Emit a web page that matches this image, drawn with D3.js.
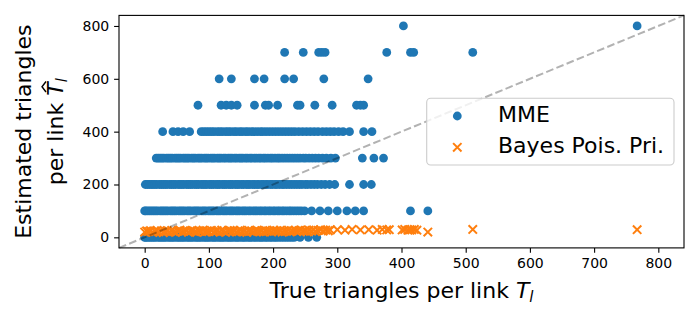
<!DOCTYPE html>
<html>
<head>
<meta charset="utf-8">
<script src="https://cdn.jsdelivr.net/npm/d3@7"></script>
<style>
  body { margin: 0; background: #fff; }
  svg { display: block; font-family: "DejaVu Sans", sans-serif; }
</style>
</head>
<body>
<script>
// MME estimates sit on multiples of 100, one array of true-triangle counts per row
const mmeRow0 = [0,2,5,8,11,14,17,21,24,27,30,33,37,40,43,46,50,53,56,59,62,66,69,72,75,79,82,85,88,92,95,98,101,105,108,111,115,118,121,124,128,131,134,137,141,144,147,151,154,157,161,164,167,171,174,178,181,184,188,191,195,198,202,205,209,213,217,221,225,229,233,242,255,268];
const mmeRow100 = [0,2,5,8,11,14,17,20,24,27,30,33,36,40,43,46,49,53,56,59,62,66,69,72,76,79,82,85,89,92,95,99,102,105,108,112,115,118,122,125,128,132,135,138,142,145,148,152,155,158,162,165,169,172,175,179,182,186,189,193,196,200,203,207,210,214,217,221,225,228,232,236,240,244,249,260,273,286,300,315,328,341,414,441];
const mmeRow200 = [1,4,7,10,13,16,19,23,26,29,32,35,39,42,45,48,52,55,58,61,65,68,71,74,78,81,84,88,91,94,97,101,104,107,111,114,117,121,124,127,131,134,137,141,144,147,151,154,158,161,164,168,171,175,178,182,185,189,192,196,199,203,206,210,214,217,221,225,229,233,237,241,245,250,254,259,264,269,275,281,288,296,319,341,353];
const mmeRow300 = [18,21,24,27,30,34,37,40,43,47,50,53,56,60,63,66,69,73,76,79,83,86,89,93,96,99,103,106,109,113,116,119,123,126,130,133,136,140,143,147,150,153,157,160,164,167,171,174,178,181,185,188,192,196,199,203,207,210,214,218,222,226,230,234,238,242,247,251,256,261,266,271,277,283,290,297,339,357,372];
const mmeRow400 = [28,44,52,60,70,88,92,96,100,104,108,113,117,121,126,130,134,139,143,148,152,157,161,166,170,175,180,184,189,194,199,204,209,214,219,224,229,234,240,246,252,258,264,270,277,283,289,295,302,309,319,341,354];
const mmeRow500 = [83,119,127,135,144,171,188,193,207,238,242,265,292,330,336,341];
const mmeRow600 = [116,135,171,186,218,232,279,348];
const mmeRow700 = [218,247,271,276,281,377,414,419,511];
const mmeRow800 = [403,767];

// Bayes (Poisson prior) estimates: [true, estimated]
const bayesPoints = [[0,20],[3,24],[6,22],[9,25],[13,19],[16,23],[19,26],[22,21],[26,24],[29,18],[32,23],[35,25],[39,21],[42,26],[45,22],[48,19],[52,24],[55,27],[58,21],[61,23],[65,25],[68,20],[71,24],[74,26],[78,22],[81,19],[84,25],[87,23],[91,27],[94,21],[97,24],[100,22],[104,26],[107,20],[110,23],[113,25],[117,21],[120,27],[123,23],[126,19],[130,24],[133,26],[136,22],[139,25],[143,20],[146,23],[149,27],[152,22],[156,24],[159,19],[162,26],[165,23],[169,21],[172,25],[175,27],[178,22],[182,24],[185,20],[188,26],[191,23],[195,25],[198,21],[201,27],[204,24],[208,22],[211,26],[214,20],[217,25],[221,23],[224,27],[227,21],[230,24],[234,26],[237,22],[240,25],[243,28],[247,23],[250,26],[253,21],[256,27],[260,24],[263,28],[266,22],[270,26],[274,29],[278,24],[282,27],[286,25],[289,28],[300,29],[312,27],[323,30],[336,28],[349,29],[362,27],[370,30],[377,28],[381,29],[401,28],[405,30],[410,27],[413,29],[416,28],[420,30],[424,27],[441,20],[511,30],[767,29]];

const xTicks = [0,100,200,300,400,500,600,700,800];
const yTicks = [0,200,400,600,800];
const seriesNames = ["MME", "Bayes Pois. Pri."];

const w = 700;
const h = 320;
const blue = "#1f77b4";
const orange = "#ff7f0e";

const mmeRows = [mmeRow0, mmeRow100, mmeRow200, mmeRow300, mmeRow400, mmeRow500, mmeRow600, mmeRow700, mmeRow800];
const mmePoints = [];
mmeRows.forEach((row, i) => row.forEach(v => mmePoints.push([v, i * 100])));

const svg = d3.select("body")
  .append("svg")
  .attr("width", w)
  .attr("height", h);

const x = d3.scaleLinear().domain([-40, 840]).range([119, 684]);
const y = d3.scaleLinear().domain([-40, 840]).range([247.9, 15.4]);

// axes
const xAxis = d3.axisBottom(x).tickValues(xTicks).tickSize(4.9).tickPadding(4.9);
const yAxis = d3.axisLeft(y).tickValues(yTicks).tickSize(4.9).tickPadding(4.9);

svg.append("g")
  .attr("transform", "translate(0," + y.range()[0] + ")")
  .call(xAxis)
  .call(g => g.select(".domain").remove());
svg.append("g")
  .attr("transform", "translate(" + x.range()[0] + ",0)")
  .call(yAxis)
  .call(g => g.select(".domain").remove());
svg.selectAll(".tick text")
  .attr("font-family", "DejaVu Sans")
  .attr("font-size", 14)
  .attr("fill", "#000");
svg.selectAll(".tick line").attr("stroke", "#000").attr("stroke-width", 1.1);

// points
svg.append("g")
  .selectAll("circle")
  .data(mmePoints)
  .enter()
  .append("circle")
  .attr("cx", d => x(d[0]))
  .attr("cy", d => y(d[1]))
  .attr("r", 4.4)
  .attr("fill", blue);

const cross = 4.2;
svg.append("g")
  .selectAll("path")
  .data(bayesPoints)
  .enter()
  .append("path")
  .attr("d", d => {
    const cx = x(d[0]), cy = y(d[1]);
    return "M" + (cx - cross) + "," + (cy - cross) + "L" + (cx + cross) + "," + (cy + cross) +
      "M" + (cx - cross) + "," + (cy + cross) + "L" + (cx + cross) + "," + (cy - cross);
  })
  .attr("stroke", orange)
  .attr("stroke-width", 2)
  .attr("fill", "none");

// y = x reference
svg.append("line")
  .attr("x1", x(-40)).attr("y1", y(-40))
  .attr("x2", x(840)).attr("y2", y(840))
  .attr("stroke", "#000")
  .attr("stroke-opacity", 0.3)
  .attr("stroke-width", 2)
  .attr("stroke-dasharray", "7.7,3.3");

// frame
svg.append("rect")
  .attr("x", x.range()[0]).attr("y", y.range()[1])
  .attr("width", x.range()[1] - x.range()[0])
  .attr("height", y.range()[0] - y.range()[1])
  .attr("fill", "none")
  .attr("stroke", "#000")
  .attr("stroke-width", 1.1);

// x label
const xl = svg.append("text")
  .attr("x", (x.range()[0] + x.range()[1]) / 2)
  .attr("y", 298)
  .attr("text-anchor", "middle")
  .attr("font-size", 22);
xl.append("tspan").text("True triangles per link ");
xl.append("tspan").attr("font-style", "italic").text("T");
xl.append("tspan").attr("font-style", "italic").attr("font-size", 15).attr("dy", 4).text("l");

// y label (two lines, rotated)
const yl = svg.append("g")
  .attr("transform", "translate(0," + (y.range()[0] + y.range()[1]) / 2 + ") rotate(-90)");
yl.append("text")
  .attr("x", 0).attr("y", 31)
  .attr("text-anchor", "middle")
  .attr("font-size", 22)
  .text("Estimated triangles");
const yl2 = yl.append("text")
  .attr("x", 0).attr("y", 63)
  .attr("text-anchor", "middle")
  .attr("font-size", 22);
yl2.append("tspan").text("per link ");
const tHat = yl2.append("tspan").attr("font-style", "italic").text("T");
yl2.append("tspan").attr("font-style", "italic").attr("font-size", 15).attr("dy", 4).text("l");
const tb = tHat.node().getBBox();
yl.append("path")
  .attr("d", "M" + (tb.x + tb.width * 0.25) + "," + (tb.y + 3) +
    "L" + (tb.x + tb.width * 0.6) + "," + (tb.y - 1) +
    "L" + (tb.x + tb.width * 0.95) + "," + (tb.y + 3))
  .attr("fill", "none")
  .attr("stroke", "#000")
  .attr("stroke-width", 1.4);

// legend
const legend = svg.append("g").attr("class", "legend");
legend.append("rect")
  .attr("x", 426.7).attr("y", 98.3)
  .attr("width", 247.3).attr("height", 66.7)
  .attr("rx", 4)
  .attr("fill", "#fff")
  .attr("fill-opacity", 0.8)
  .attr("stroke", "#cccccc")
  .attr("stroke-width", 1.1);
legend.append("circle")
  .attr("cx", 457.3).attr("cy", 116)
  .attr("r", 4.4)
  .attr("fill", blue);
legend.append("path")
  .attr("d", "M" + (457.3 - cross) + "," + (147.3 - cross) + "L" + (457.3 + cross) + "," + (147.3 + cross) +
    "M" + (457.3 - cross) + "," + (147.3 + cross) + "L" + (457.3 + cross) + "," + (147.3 - cross))
  .attr("stroke", orange)
  .attr("stroke-width", 2);
legend.selectAll("text.lab")
  .data(seriesNames)
  .enter()
  .append("text")
  .attr("class", "lab")
  .attr("x", 498)
  .attr("y", (d, i) => 122 + i * 31)
  .attr("font-size", 22)
  .text(d => d);
</script>
</body>
</html>
